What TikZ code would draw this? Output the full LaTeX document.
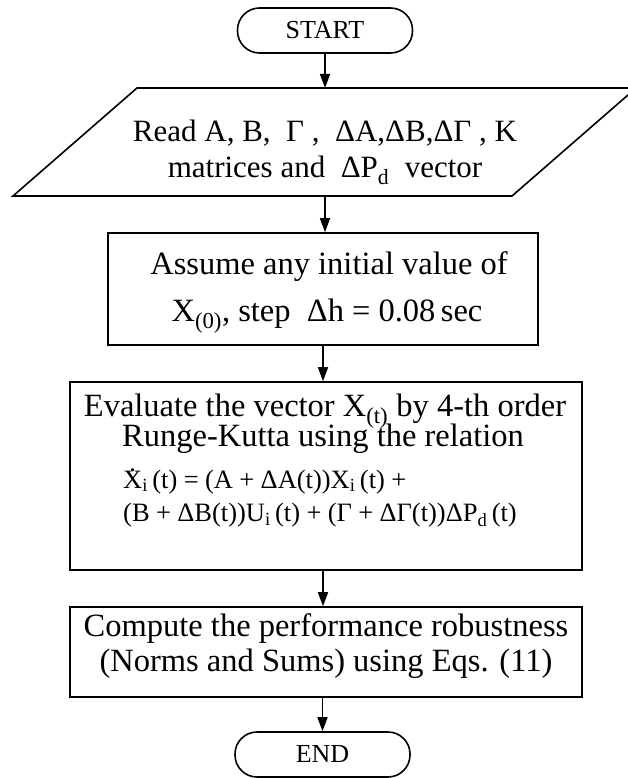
\documentclass[tikz,border=0pt]{standalone}
\usepackage{fontspec}
\setmainfont{Liberation Serif}
\usetikzlibrary{arrows.meta}
\newcommand{\dotX}{\ooalign{X\cr\hidewidth\raisebox{0.64em}{.}\hidewidth\cr}}
\newcommand{\op}[1]{\hspace{0.24em}#1\hspace{0.24em}}
\begin{document}
\begin{tikzpicture}[x=1pt,y=-1pt,
  ln/.style={line width=1.6pt},
  arr/.style={line width=1.6pt,-{Triangle[width=10pt,length=14pt]}},
  term/.style={draw,line width=1.6pt,rounded corners=22pt,minimum width=175pt,minimum height=45pt,inner sep=0pt,font=\fontsize{26}{30}\selectfont},
  box/.style={draw,line width=1.6pt,inner sep=0pt},
  txt/.style={inner sep=0pt,anchor=base,font=\fontsize{32.5}{32}\selectfont},
  ptxt/.style={inner sep=0pt,anchor=base,font=\fontsize{31}{31}\selectfont},
  eqtxt/.style={inner sep=0pt,anchor=base west,font=\fontsize{26.5}{27}\selectfont},
 ]
\useasboundingbox (0,0) rectangle (628,778);

% START
\node[term] (start) at (325,30.5) {START};

% input parallelogram
\draw[ln] (13,196) -- (137,88) -- (636,88) -- (512,196) -- cycle;
\coordinate (readTop) at (325,88);
\coordinate (readBot) at (325,196);
\node[ptxt] (read1) at (325,142) {Read A, B,\enspace Γ ,\enspace ΔA,ΔB,ΔΓ , K};
\node[ptxt] (read2) at (325,178) {matrices and\enspace ΔP\textsubscript{d}\enspace vector};

% assume box
\node[box,minimum width=430pt,minimum height=112pt] (assume) at (323,289) {};
\node[txt] (assume1) at (329,274) {Assume any initial value of};
\node[txt] (assume2) at (327,321) {X\textsubscript{(0)}, step\enspace Δh = 0.08\,sec};

% evaluate box
\node[box,minimum width=512pt,minimum height=188pt] (eval) at (326,476) {};
\node[txt] (eval1) at (325,416.7) {Evaluate the vector X\textsubscript{(t)} by 4-th order};
\node[txt] (eval2) at (323,446) {Runge-Kutta using the relation};
\node[eqtxt] (eq1) at (123,488) {\dotX\textsubscript{i}\,(t)\op{=}(A\op{+}ΔA(t))X\textsubscript{i}\,(t)\op{+}};
\node[eqtxt] (eq2) at (123,521.7) {(B\op{+}ΔB(t))U\textsubscript{i}\,(t)\op{+}(Γ\op{+}ΔΓ(t))ΔP\textsubscript{d}\,(t)};

% compute box
\node[box,minimum width=512pt,minimum height=90pt] (comp) at (326,652) {};
\node[txt] (comp1) at (326,636.7) {Compute the performance robustness};
\node[txt] (comp2) at (326,671.7) {(Norms and Sums) using Eqs. (11)};

% END
\node[term] (end) at (322.5,754.5) {END};

% connectors
\draw[arr] (start.south) -- (readTop);
\draw[arr] (readBot) -- (readBot |- assume.north);
\draw[arr] (assume.south) -- (assume.south |- eval.north);
\draw[arr] (eval.south -| assume.south) -- (assume.south |- comp.north);
\draw[arr] (comp.south -| end.north) -- (end.north);
\end{tikzpicture}
\end{document}
